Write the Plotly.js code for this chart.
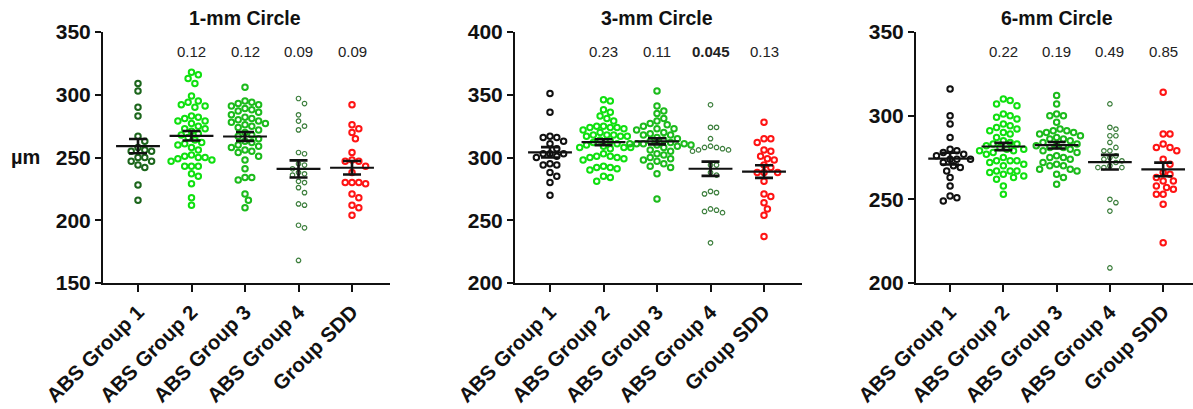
<!DOCTYPE html>
<html>
<head>
<meta charset="utf-8">
<script src="https://cdn.plot.ly/plotly-3.0.1.min.js"></script>
<style>html,body{margin:0;padding:0;background:#fff;}#chart{width:1193px;height:409px;}</style>
</head>
<body>
<div id="chart"></div>
<script>
// ---------- data ----------
const categories = ['ABS Group 1', 'ABS Group 2', 'ABS Group 3', 'ABS Group 4', 'Group SDD'];
const panelTitles = ['1-mm Circle', '3-mm Circle', '6-mm Circle'];

// 1-mm circle
const mm1_abs1 = [309, 303, 290, 283, 267, 263, 258, 256, 255, 255, 250, 250, 247, 247, 244, 242, 228, 216];
const mm1_abs2 = [318, 316, 313, 309, 299, 295, 294, 292, 291, 290, 283, 282, 281, 279, 279, 277, 275, 273, 273, 271, 269, 268, 266, 264, 262, 261, 260, 258, 256, 252, 251, 250, 250, 249, 248, 247, 243, 243, 243, 237, 235, 229, 218, 212];
const mm1_abs3 = [306, 295, 294, 293, 292, 291, 289, 288, 287, 286, 284, 282, 281, 280, 279, 278, 277, 276, 275, 274, 272, 270, 268, 267, 265, 263, 262, 260, 259, 258, 256, 255, 254, 251, 248, 241, 234, 234, 232, 221, 216, 210];
const mm1_abs4 = [297, 293, 284, 279, 275, 272, 254, 253, 245, 244, 241, 238, 237, 236, 231, 230, 226, 222, 213, 212, 196, 194, 168];
const mm1_sdd  = [292, 276, 273, 270, 265, 254, 248, 247, 247, 243, 238, 230, 230, 230, 229, 221, 218, 212, 210, 204];
const mm1_p = ['', '0.12', '0.12', '0.09', '0.09'];

// 3-mm circle
const mm3_abs1 = [351, 336, 317, 316, 316, 313, 311, 307, 303, 303, 303, 301, 300, 295, 294, 294, 288, 285, 280, 270];
const mm3_abs2 = [346, 345, 338, 336, 333, 331, 329, 325, 325, 324, 324, 324, 323, 322, 320, 318, 318, 318, 317, 317, 317, 314, 313, 312, 311, 310, 309, 308, 308, 308, 307, 303, 301, 301, 300, 300, 299, 298, 293, 292, 292, 291, 290, 285, 284, 281];
const mm3_abs3 = [353, 341, 337, 335, 331, 329, 327, 326, 325, 323, 323, 322, 320, 319, 318, 318, 316, 315, 314, 313, 312, 311, 311, 311, 311, 310, 310, 309, 308, 306, 305, 303, 302, 300, 299, 298, 297, 295, 293, 292, 287, 267];
const mm3_abs4 = [342, 324, 324, 315, 309, 308, 308, 307, 306, 306, 305, 294, 294, 288, 286, 273, 272, 271, 259, 258, 257, 256, 232];
const mm3_sdd  = [328, 315, 315, 312, 306, 305, 301, 299, 298, 294, 292, 288, 288, 288, 281, 271, 269, 264, 259, 254, 237];
const mm3_p = ['', '0.23', '0.11', '0.045', '0.13'];

// 6-mm circle
const mm6_abs1 = [316, 300, 295, 287, 280, 279, 278, 277, 276, 274, 274, 274, 272, 270, 269, 267, 263, 258, 252, 251, 249];
const mm6_abs2 = [310, 309, 307, 306, 301, 300, 299, 298, 295, 294, 293, 292, 291, 290, 289, 287, 285, 284, 283, 283, 282, 281, 280, 280, 279, 279, 278, 277, 275, 273, 273, 273, 272, 271, 270, 267, 267, 267, 266, 265, 264, 263, 262, 258, 253];
const mm6_abs3 = [312, 307, 301, 300, 300, 296, 292, 291, 291, 290, 290, 289, 288, 287, 286, 286, 285, 284, 283, 282, 282, 281, 281, 280, 279, 278, 276, 275, 275, 274, 272, 271, 270, 270, 268, 268, 267, 265, 263, 259];
const mm6_abs4 = [307, 293, 292, 288, 288, 284, 281, 279, 279, 276, 275, 274, 273, 272, 270, 269, 269, 269, 250, 248, 243, 209];
const mm6_sdd  = [314, 289, 289, 283, 281, 281, 279, 274, 271, 266, 265, 263, 261, 261, 258, 257, 256, 253, 253, 247, 224];
const mm6_p = ['', '0.22', '0.19', '0.49', '0.85'];

const yRanges = [[150, 350], [200, 400], [200, 350]];

// ---------- styling / layout ----------
const W = 1193, H = 409;
const M = {l: 0, r: 0, t: 32, b: 126};
const plotH = H - M.t - M.b;
const domainsPx = [[103, 390], [515, 802], [916, 1193]];
const xRanges = [[-0.654, 4.71], [-0.654, 4.71], [-0.64, 4.56]];
const FONT = 'Liberation Sans, Arial, sans-serif';

const panels = [
  {data: [mm1_abs1, mm1_abs2, mm1_abs3, mm1_abs4, mm1_sdd], p: mm1_p, first: '#1c661c'},
  {data: [mm3_abs1, mm3_abs2, mm3_abs3, mm3_abs4, mm3_sdd], p: mm3_p, first: '#111111'},
  {data: [mm6_abs1, mm6_abs2, mm6_abs3, mm6_abs4, mm6_sdd], p: mm6_p, first: '#111111'}
];
const groupColors = [null, '#10e010', '#1cbb1c', '#3a7d3a', '#ff1414'];

function swarm(vals, pxPerY, pxPerX, d) {
  const idx = vals.map((v, i) => i).sort((a, b) => vals[b] - vals[a]);
  const placed = [];
  const offs = new Array(vals.length).fill(0);
  for (const i of idx) {
    const yp = vals[i] * pxPerY;
    for (let k = 0; k < 200; k++) {
      const cand = k === 0 ? 0 : (k % 2 ? 1 : -1) * Math.ceil(k / 2) * d / 2;
      if (placed.every(p => (p.x - cand) ** 2 + (p.y - yp) ** 2 >= d * d * 0.97)) {
        offs[i] = cand; placed.push({x: cand, y: yp}); break;
      }
    }
  }
  return offs.map(o => o / pxPerX);
}
function mean(a) { return a.reduce((s, v) => s + v, 0) / a.length; }
function sem(a) {
  const m = mean(a);
  const sd = Math.sqrt(a.reduce((s, v) => s + (v - m) ** 2, 0) / (a.length - 1));
  return sd / Math.sqrt(a.length);
}

const traces = [];
const annotations = [];
const layout = {
  width: W, height: H, margin: M, showlegend: false,
  paper_bgcolor: '#fff', plot_bgcolor: '#fff',
  font: {family: FONT, color: '#111'}
};

panels.forEach((pan, pi) => {
  const ax = pi === 0 ? '' : String(pi + 1);
  const xname = 'x' + ax, yname = 'y' + ax;
  const dom = domainsPx[pi];
  const pxPerX = (dom[1] - dom[0]) / (xRanges[pi][1] - xRanges[pi][0]);
  const pxPerY = plotH / (yRanges[pi][1] - yRanges[pi][0]);
  layout['xaxis' + ax] = {
    domain: [dom[0] / W, dom[1] / W], range: xRanges[pi], anchor: yname,
    showline: true, linecolor: '#111', linewidth: 2, showgrid: false, zeroline: false,
    ticks: 'outside', ticklen: 7, tickwidth: 2, tickcolor: '#111',
    tickmode: 'array', tickvals: categories.map((c, i) => i), ticktext: categories,
    tickangle: -45, tickfont: {family: FONT, size: 20.5, weight: 700, color: '#111'}
  };
  layout['yaxis' + ax] = {
    domain: [0, 1], range: yRanges[pi], anchor: xname,
    showline: true, linecolor: '#111', linewidth: 2, showgrid: false, zeroline: false,
    ticks: 'outside', ticklen: 6, tickwidth: 2, tickcolor: '#111', dtick: 50,
    tickfont: {family: FONT, size: 21, weight: 700, color: '#111'}
  };
  // points
  pan.data.forEach((vals, gi) => {
    const small = gi === 3;
    const offs = swarm(vals, pxPerY, pxPerX, small ? 6 : 6.8);
    const col = gi === 0 ? pan.first : groupColors[gi];
    traces.push({
      type: 'scatter', mode: 'markers', xaxis: xname, yaxis: yname,
      x: offs.map(o => gi + o), y: vals, hoverinfo: 'skip',
      marker: {symbol: 'circle-open', size: small ? 4.5 : 5.5, color: col,
               line: {width: small ? 1.2 : 2, color: col}}
    });
  });
  // mean and SEM
  pan.data.forEach((vals, gi) => {
    const m = mean(vals), s = sem(vals);
    traces.push({
      type: 'scatter', mode: 'lines', xaxis: xname, yaxis: yname, hoverinfo: 'skip',
      x: [gi - 0.41, gi + 0.41], y: [m, m], line: {color: '#111', width: 2.2}
    });
    traces.push({
      type: 'scatter', mode: 'markers', xaxis: xname, yaxis: yname, hoverinfo: 'skip',
      x: [gi], y: [m], marker: {size: 1, color: 'rgba(0,0,0,0)'},
      error_y: {type: 'data', array: [s], visible: true, color: '#111', thickness: 2.6, width: 9}
    });
  });
  // title
  annotations.push({
    xref: xname, yref: yname + ' domain', x: 2, y: (plotH + M.t - 18) / plotH,
    text: panelTitles[pi], showarrow: false, xanchor: 'center', yanchor: 'middle',
    font: {family: FONT, size: 19.5, weight: 700, color: '#111'}
  });
  // p-values
  pan.p.forEach((t, gi) => {
    if (!t) return;
    const bold = parseFloat(t) < 0.05;
    annotations.push({
      xref: xname, yref: yname + ' domain', x: gi, y: (plotH + M.t - 51) / plotH,
      text: t, showarrow: false, xanchor: 'center', yanchor: 'middle',
      font: {family: FONT, size: 15, weight: bold ? 700 : 400, color: '#222'}
    });
  });
});

annotations.push({
  xref: 'paper', yref: 'paper', x: 25 / W, y: (M.t + plotH - 157) / plotH,
  text: 'µm', showarrow: false, xanchor: 'center', yanchor: 'middle',
  font: {family: FONT, size: 20, weight: 700, color: '#111'}
});
layout.annotations = annotations;

Plotly.newPlot('chart', traces, layout, {staticPlot: true, displayModeBar: false});
</script>
</body>
</html>
